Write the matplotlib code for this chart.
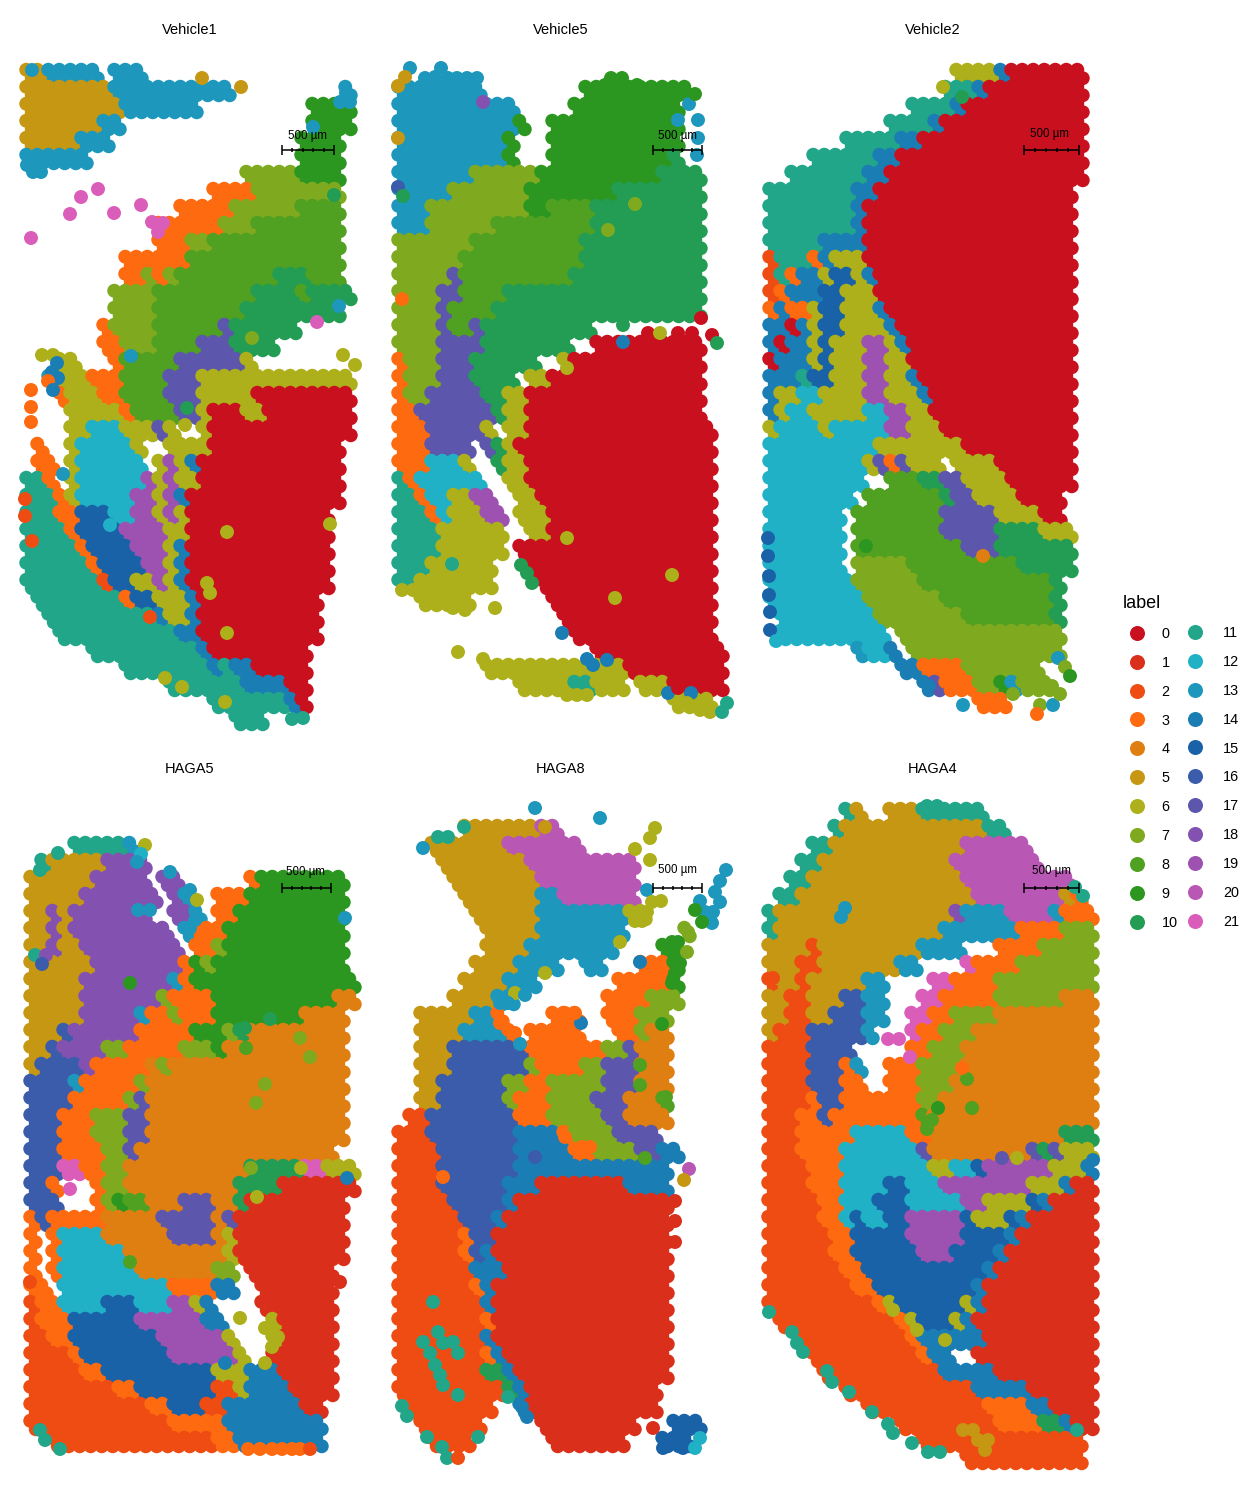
import matplotlib
matplotlib.use("Agg")
import matplotlib.pyplot as plt
from matplotlib.lines import Line2D

plt.rcParams['font.family'] = ['Liberation Sans', 'DejaVu Sans']

LABELS = [str(i) for i in range(22)]
CODES = "0123456789abcdefghijkl"
COLORS = ["#C9101F", "#DA2F1A", "#EE4C12", "#FE6A0F", "#E07F11", "#C69713", "#ADB01A", "#7FA91F",
          "#50A021", "#2B9720", "#229D53", "#22A68A", "#20B1C6", "#1D97BC", "#1A7DB4", "#1A62A7",
          "#3A5CAA", "#5C56AC", "#8352B0", "#9D52B2", "#B857B4", "#DB5DBA"]
TITLES = ["Vehicle1", "Vehicle5", "Vehicle2", "HAGA5", "HAGA8", "HAGA4"]

# spot maps: one string per pair of array rows, tokens are <label><run length>
V1 = ["52 d5 .1 d3", "58 d11 .10 d", "59 d7 .10 94", "57 d2 .17 94", "55 d3 .17 94", "d6 .19 94",
      ".20 75 94", ".17 34 78", ".14 35 76 84", ".12 36 73 88", ".12 33 72 812", ".9 36 814",
      ".9 32 7 3 7 89 a3 83", ".8 74 89 a4 8 a4", ".8 74 88 a9", ".7 3 74 86 h a6", ".7 32 73 84 h3 a4",
      ".3 62 .3 3 85 h6 6", ".2 d 63 33 84 h3 614", ".3 3 63 32 84 h3 65 09", ".4 65 3 84 h2 6 03 62 08",
      ".4 62 c3 62 6 h 6 .2 6 013", ". 3 .2 6 c5 6 .2 63 6 012", ". 32 . 6 c6 . 6 j 6 e 013",
      "b2 3 . 6 c6 j 6 j 62 013", "b3 3 6 c5 j2 6 j e 014", "b3 32 f3 c2 j2 6 j 6 013", "b4 3 f4 j4 62 013",
      "b5 3 f4 j3 6 e 013", "b6 3 f4 j2 6 e 013", "b7 2 f2 62 j 6 e 013", ". b8 3 f2 63 e 011",
      ".2 b10 e 62 e 011", ".3 b11 e2 011", ".6 b10 e 09", ".9 b8 e b e2 05", ".13 b7 e4 02", ".17 b7 e 0",
      ".19 b3"]
V5 = ["", "d8 .9 910", "d11 .5 910", "d11 9 .2 912", "d10 9 .3 912", "d10 9 .3 911 a", "d7 76 911 a4",
      "d5 77 98 a8", "d3 79 92 84 a10", "d3 76 89 a10", "77 810 a11", "76 811 a11", "75 h 810 a12",
      "74 h2 84 a18", "74 h 84 a19", "74 h 82 h a10", "74 h4 a8 .2 010", "3 73 h3 a6 .2 6 012",
      "3 73 h3 a4 . 62 014", "3 72 h5 a2 62 016", "32 h7 a 62 016", "33 h5 6 . 62 017", "33 h4 . h a 6 018",
      "33 c3 6 .2 a 62 017", "b 3 c6 .2 62 017", "b2 3 c2 62 j2 .2 62 016", "b3 3 c 63 j2 . 63 015",
      "b4 66 .2 62 015", "b4 66 . 018", "b3 66 .3 017", "b2 67 .4 016", ".2 65 .7 015", ".15 014", ".16 013",
      ".18 012", ".8 613 09", ".11 65 b2 63 . 63 05", ".25 64"]
V2 = [".17 64 e 07", ".16 b3 e 09", ".13 b4 e 011", ".11 b4 e 013", ".7 b5 e2 015", ".4 b6 e2 017",
      ".2 b7 e2 018", "b8 e2 018", "b8 e 019", "b8 e 019", "b5 e4 019", "2 b3 3 e 63 019",
      "2 b 3 e2 6 f2 6 e 018", "2 3 e3 f2 63 018", "3 e 32 6 f2 63 e 017", "e2 0 e 6 f2 64 e 016",
      "e 0 e2 6 f 63 j2 6 e 015", "0 e3 6 f 63 j2 62 015", "e3 b f2 63 j2 62 e 014", "e 62 c2 64 j2 63 e 013",
      "e 6 c2 65 c2 j2 62 013", "6 c4 6 c5 j2 63 012", "c10 68 010", "c9 6 h 3 h 63 . 64 07",
      "c9 .2 83 a2 h2 64 06", "c8 . 87 a h2 64 04", "c7 . 88 h5 64 02", "c7 . 88 h5 a4 63", "c7 . 810 h3 a7",
      "c7 . 75 810 a5", "c8 76 812 a", "c9 77 810 a", ". c9 78 88 a", ". c10 . 715", ".8 d c2 e . 714",
      ".12 e2 34 77", ".14 e h 33 72 9 d 73", ".19 33"]
H5 = ["", "", ".4 b5 d", ". b 55 i4", "56 i5 . i2 .6 3 98", "55 i7 . i d .2 33 99",
      "52 i 5 i7 .2 i2 d . 32 910", "52 i 5 i9 . d 33 911", "52 i 52 i9 . 32 7 911", "56 i8 3 9 7 912",
      "55 i8 d 3 915", "55 i7 7 34 911 42", "55 i5 d 32 7 33 98 44", "53 g i6 35 93 7 a 49",
      "52 g i4 72 35 73 9 411", "5 g4 i 35 4 7 416", "g4 d 35 7 418", "g4 35 7 h 418", "g3 33 73 h2 418",
      "g3 33 73 h2 418", "g3 34 72 h 418", "g3 l2 32 72 411 a5 l2 63", "g2 3 .3 3 72 410 a4 17",
      "g3 .3 3 7 9 82 43 h3 42 a 19", "3 g 35 45 h5 4 h 110", "3 . 3 c4 46 h4 4 6 110", "3 . 3 c6 49 6 110",
      "3 . 3 c7 47 72 . 18", "32 . c10 34 e2 .2 17", "2 32 c4 f3 c3 j2 6 e .4 17", "2 33 f6 j6 e2 .4 6 15",
      "22 32 f8 j6 6 .3 6 15", "24 3 f8 j6 6 .2 16", "25 32 f10 63 e3 15", "28 32 f7 22 6 e4 14",
      "211 32 f3 22 e7 12", "213 35 e9", ".2 215 32 e8"]
H8 = ["", ".6 57 k2", ".3 57 k7", ".4 58 k10", ".5 58 k9", ".6 57 d2 k7", ".7 56 d8 62", ".8 55 d8 .5 7",
      ".8 54 d8 .4 92", ".7 54 d4 .2 d2 .3 33 9", ".6 54 d3 .7 35 9", ".5 54 d2 .8 34 73",
      ".2 55 d2 3 .4 33 .2 33 73", ".2 54 d4 3 . 35 .3 32 7 42", ".2 53 g7 37 72 h 43",
      ".2 53 g7 7 34 72 h3 43", ".2 52 g6 72 32 75 h3 43", ".2 52 g6 7 33 74 h3 43 8", ". 22 g8 33 75 h2 44",
      "23 g8 e4 3 74 h4", "24 g7 e5 32 74 h2 e2", "24 g7 e14", "24 g6 e3 18 e4", "25 g5 e 114",
      "26 g3 e 115", "26 3 g2 116", "26 3 g e 116", "27 e3 115", "27 3 e 116", "28 e 116", "28 3 116",
      "28 e 116", "28 3 e 115", "28 a2 e 114", "210 a e 112", ". 28 .2 e 112", ".2 26 .5 19 .3 f3",
      ".3 24 .7 17 .3 f3"]
H4 = [".7 b 5 .2 53 b6", ".6 b 513 b2", ".4 b2 512 k6", ".3 b2 512 k8", ".2 b2 514 k10", ". b2 516 k8 5 3",
      "b 516 i d4 k4 d 33", "b 515 d7 34 73", "54 2 59 d4 .3 34 75", "53 22 57 d2 .4 l 34 77",
      "2 52 2 55 d2 .4 l2 34 79", "52 22 53 g2 d2 .3 l2 35 76 43", "52 22 52 g3 d2 .2 l2 32 74 49",
      "5 23 g5 d .3 l 32 73 411", "24 g4 .5 32 73 412", "24 g3 3 d .2 33 74 412", "24 g3 32 .2 33 73 413",
      "24 3 g2 37 72 414", "23 32 g 38 8 415", "23 35 c5 32 412 a3", "23 34 c7 h 49 h a h 63",
      "24 33 c8 62 c2 f j6 63 e", "24 33 c4 f2 c3 j8 63 e 12", "25 32 c3 f3 c5 j2 64 f e 14",
      "25 32 c f c2 f2 j5 f 63 f e 16", "26 32 f5 j5 f4 e 17", "26 32 f6 j3 f4 e 18", "27 32 f11 e 19",
      "28 32 f9 e 110", "210 3 6 f6 6 e 110", ". 211 3 6 f3 6 e 111", ".3 210 3 e6 110", ".4 210 3 e2 .2 111",
      ".5 211 e5 19", ".7 212 e5 16", ".9 211 34 e2 14", ".12 29 34 a2 e 12", ".14 215", ".18 211"]

# loose spots read one by one: (x, y, label code)
V1_LOOSE = [(32,70,'d'),(27,165,'d'),(41,172,'d'),(33,172,'d'),(202,78,'5'),(241,87,'5'),(346,93,'d'),(340,102,'d'),
    (350,102,'d'),(313,127,'d'),(98,189,'l'),(81,197,'l'),(70,214,'l'),(114,213,'l'),(141,205,'l'),(31,238,'l'),
    (152,222,'l'),(163,223,'l'),(158,232,'l'),(334,195,'a'),(339,306,'d'),(317,322,'l'),(252,338,'7'),(131,356,'d'),
    (42,355,'6'),(53,355,'6'),(343,355,'6'),(355,365,'6'),(57,363,'e'),(52,372,'e'),(58,378,'e'),(48,381,'3'),
    (53,390,'e'),(31,390,'3'),(31,407,'3'),(31,422,'3'),(187,408,'a'),(185,425,'6'),(63,474,'d'),(25,499,'2'),
    (25,516,'2'),(32,541,'2'),(110,525,'c'),(227,532,'6'),(330,524,'6'),(207,583,'6'),(210,593,'6'),(227,633,'6'),
    (165,678,'6'),(182,687,'6'),(225,702,'6'),(292,719,'b'),(303,718,'b'),(150,617,'2')]
V5_LOOSE = [(410,68,'d'),(441,68,'d'),(425,78,'d'),(435,77,'d'),(448,78,'d'),(457,78,'d'),(467,78,'d'),(477,78,'d'),
    (405,77,'5'),(398,86,'5'),(611,78,'9'),(622,78,'9'),(605,85,'9'),(592,94,'9'),(637,85,'9'),(483,102,'i'),
    (689,104,'d'),(678,120,'d'),(698,120,'d'),(698,138,'d'),(697,155,'d'),(695,94,'9'),(398,138,'5'),(398,187,'g'),
    (403,196,'a'),(402,299,'3'),(701,318,'0'),(635,204,'7'),(608,230,'7'),(623,325,'a'),(648,333,'0'),(660,333,'6'),
    (678,333,'0'),(692,333,'0'),(712,335,'0'),(717,343,'a'),(623,342,'e'),(567,368,'6'),(452,564,'b'),(521,565,'a'),
    (527,573,'a'),(532,583,'a'),(402,590,'6'),(413,590,'6'),(453,608,'6'),(465,610,'6'),(495,608,'6'),(567,538,'6'),
    (672,575,'6'),(615,598,'6'),(562,633,'e'),(587,659,'e'),(593,665,'e'),(607,660,'e'),(458,652,'6'),(483,659,'6'),
    (542,687,'6'),(567,695,'6'),(577,695,'6'),(587,695,'6'),(668,693,'e'),(691,693,'e'),(700,710,'6'),(710,712,'6'),
    (687,703,'6'),(722,712,'b'),(727,703,'b'),(678,688,'0')]
V2_LOOSE = [(943,87,'6'),(962,97,'a'),(768,538,'f'),(768,556,'f'),(769,576,'f'),(769,595,'f'),(770,612,'f'),(770,630,'f'),
    (776,641,'c'),(866,546,'9'),(983,556,'4'),(1058,658,'d'),(1065,667,'7'),(1070,676,'9'),(963,705,'d'),(1013,694,'7'),
    (1040,705,'7'),(1053,705,'d'),(1037,714,'3'),(1052,686,'7'),(1060,694,'7'),(929,686,'e')]
H5_LOOSE = [(58,853,'b'),(40,870,'b'),(145,845,'6'),(141,854,'c'),(137,862,'d'),(170,872,'d'),(190,890,'d'),(197,900,'6'),
    (195,920,'d'),(190,928,'d'),(138,910,'d'),(150,910,'d'),(35,955,'b'),(46,955,'i'),(42,964,'g'),(130,983,'9'),
    (270,1019,'a'),(245,1028,'a'),(300,1038,'7'),(310,1057,'7'),(265,1084,'7'),(256,1103,'7'),(246,1048,'8'),(345,918,'d'),
    (130,1262,'8'),(70,1189,'l'),(240,1318,'6'),(265,1328,'6'),(278,1337,'6'),(272,1347,'6'),(265,1363,'6'),(257,1197,'6'),
    (251,1168,'7'),(301,1168,'6'),(347,1178,'e'),(40,1430,'b'),(45,1440,'b'),(60,1449,'b'),(248,1449,'3'),(260,1449,'3'),
    (272,1449,'3'),(282,1449,'3'),(292,1449,'3'),(300,1449,'3'),(310,1449,'2'),(340,1282,'1'),(30,1282,'2'),(225,1363,'e')]
H8_LOOSE = [(535,808,'d'),(600,818,'d'),(438,837,'b'),(448,837,'b'),(464,827,'b'),(545,827,'5'),(423,848,'d'),(655,828,'6'),
    (650,838,'6'),(635,849,'6'),(650,860,'6'),(726,870,'d'),(720,881,'d'),(715,892,'d'),(647,890,'d'),(700,901,'d'),
    (720,902,'d'),(713,912,'d'),(712,923,'d'),(705,912,'d'),(652,902,'6'),(661,901,'6'),(647,912,'6'),(635,921,'6'),
    (642,921,'6'),(620,942,'6'),(640,962,'e'),(695,910,'9'),(702,922,'9'),(678,942,'9'),(672,942,'9'),(680,963,'9'),
    (688,932,'7'),(687,952,'7'),(675,973,'9'),(672,983,'9'),(662,1024,'9'),(545,973,'6'),(515,993,'6'),(525,995,'d'),
    (500,1003,'d'),(508,1003,'d'),(500,1023,'3'),(515,1033,'3'),(581,1023,'e'),(520,1044,'d'),(565,1013,'3'),(575,1013,'3'),
    (640,1065,'8'),(640,1085,'8'),(666,1097,'8'),(443,1177,'3'),(535,1157,'g'),(565,1137,'3'),(582,1147,'3'),(590,1147,'3'),
    (645,1158,'8'),(689,1169,'k'),(684,1180,'5'),(675,1201,'1'),(675,1221,'1'),(675,1242,'1'),(663,1323,'1'),(663,1345,'1'),
    (663,1366,'1'),(653,1428,'1'),(433,1302,'b'),(438,1332,'b'),(423,1342,'b'),(443,1343,'b'),(453,1342,'b'),(430,1353,'b'),
    (458,1353,'b'),(435,1365,'b'),(440,1375,'b'),(443,1385,'b'),(458,1395,'b'),(402,1406,'b'),(407,1416,'b'),(427,1437,'b'),
    (478,1437,'b'),(442,1447,'b'),(447,1458,'b'),(458,1458,'2'),(663,1448,'f'),(683,1448,'f'),(695,1448,'c'),(700,1438,'c'),
    (508,1397,'b'),(527,1417,'e'),(522,1407,'e')]
H4_LOOSE = [(927,806,'b'),(937,806,'b'),(769,1312,'b'),(792,1332,'b'),(797,1343,'b'),(803,1352,'b'),(827,1371,'b'),(832,1382,'b'),
    (849,1392,'b'),(872,1412,'b'),(888,1424,'b'),(893,1433,'b'),(912,1443,'b'),(928,1452,'b'),(940,1452,'b'),(1075,887,'b'),
    (1083,896,'b'),(845,908,'d'),(841,917,'d'),(888,1039,'l'),(899,1039,'l'),(910,1057,'l'),(938,1108,'9'),(972,1108,'8'),
    (967,1079,'8'),(962,1068,'3'),(932,1120,'8'),(927,1129,'8'),(963,1430,'5'),(973,1430,'5'),(978,1440,'5'),(988,1440,'5'),
    (985,1450,'5'),(773,978,'2'),(1077,1430,'b'),(1002,1158,'h'),(1017,1158,'6'),(945,1340,'6'),(917,1330,'6'),(893,1310,'6'),
    (1093,1160,'e')]

MAPS = [V1, V5, V2, H5, H8, H4]
LOOSE = [V1_LOOSE, V5_LOOSE, V2_LOOSE, H5_LOOSE, H8_LOOSE, H4_LOOSE]
ORIGIN = [(29, 74), (401, 74), (772, 74), (33, 813), (401, 813), (771, 813)]
BOXES = [(15, 50, 365, 735), (386, 50, 736, 735), (758, 50, 1108, 735),
         (15, 789, 365, 1474), (386, 789, 736, 1474), (758, 789, 1108, 1474)]
BARS = [(282, 334, 150, 307, 136), (653, 702, 150, 677, 136), (1024, 1079, 150, 1050, 134),
        (282, 331, 888, 305, 872), (653, 702, 888, 677, 870), (1024, 1079, 888, 1051, 871)]

COL_STEP, LINE_STEP, W, H = 11, 17, 1250, 1500


def expand(rows, left, top):
    xs, ys, cs = [], [], []
    for k, row in enumerate(rows):
        col = 0
        for tok in row.split():
            code, n = tok[0], int(tok[1:] or 1)
            if code != '.':
                for i in range(n):
                    for dx, dy in ((-2.75, -4.25), (2.75, 4.25)):
                        xs.append(left + COL_STEP * (col + i) + dx)
                        ys.append(top + LINE_STEP * k + dy)
                        cs.append(COLORS[CODES.index(code)])
            col += n
    return xs, ys, cs


fig = plt.figure(figsize=(W / 100, H / 100), dpi=100, facecolor='white')
for title, rows, loose, (left, top), (x0, y0, x1, y1), bar in zip(TITLES, MAPS, LOOSE, ORIGIN, BOXES, BARS):
    ax = fig.add_axes([x0 / W, 1 - y1 / H, (x1 - x0) / W, (y1 - y0) / H])
    ax.set_xlim(x0, x1)
    ax.set_ylim(y1, y0)
    ax.axis('off')
    xs, ys, cs = expand(rows, left, top)
    xs += [p[0] for p in loose]
    ys += [p[1] for p in loose]
    cs += [COLORS[CODES.index(p[2])] for p in loose]
    ax.scatter(xs, ys, c=cs, s=101, linewidths=0, clip_on=False, zorder=2)
    ax.text((x0 + x1) / 2, y0 - 19.5, title, ha='center', va='center', fontsize=10.5, clip_on=False)
    bx0, bx1, by, tx, ty = bar
    ax.plot([bx0, bx1], [by, by], color='black', lw=1.1, zorder=3, solid_capstyle='butt')
    for i in range(6):
        tick = bx0 + (bx1 - bx0) * i / 5
        half = 5 if i in (0, 5) else 2
        ax.plot([tick, tick], [by - half, by + half], color='black', lw=1.1, zorder=3, solid_capstyle='butt')
    ax.text(tx, ty, "500 µm", ha='center', va='center', fontsize=8.3, zorder=3)

handles = [Line2D([], [], linestyle='none', marker='o', markersize=10.8, markeredgewidth=0, color=c) for c in COLORS]
common = dict(loc='upper left', frameon=False, fontsize=10.4, borderpad=0, borderaxespad=0,
              labelspacing=1.03, handlelength=1.94)
fig.legend(handles[:11], LABELS[:11], bbox_to_anchor=(1123 / W, 1 - 595 / H), title='label', title_fontsize=13,
           handletextpad=0.72, alignment='left', **common)
fig.legend(handles[11:], LABELS[11:], bbox_to_anchor=(1181 / W, 1 - 626 / H), handletextpad=0.98, **common)
fig.savefig('out.png', dpi=100, facecolor='white')
